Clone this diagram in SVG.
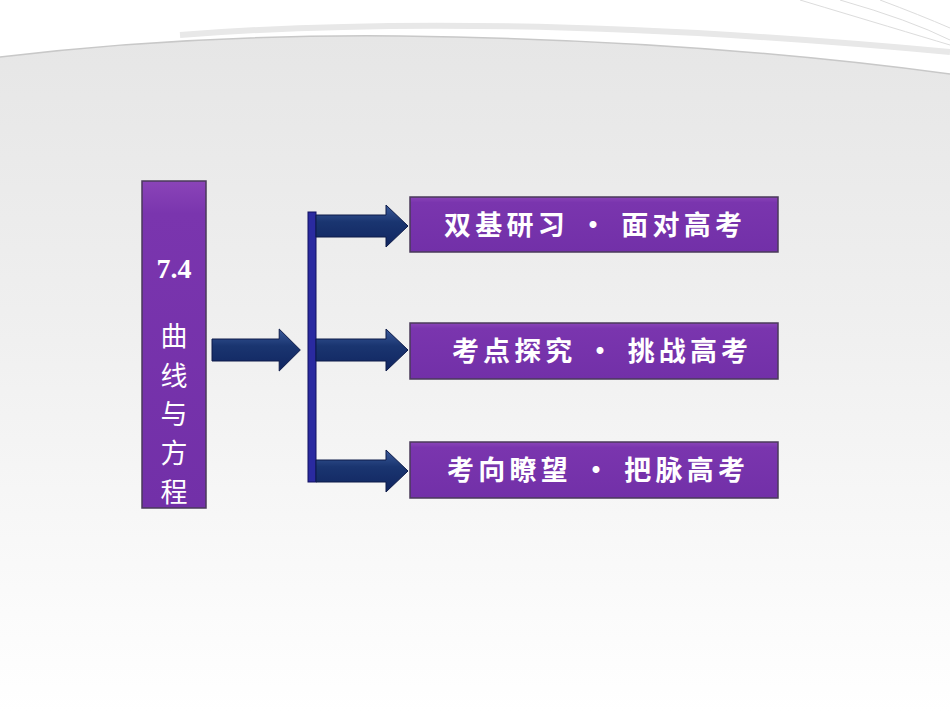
<svg xmlns="http://www.w3.org/2000/svg" width="950" height="713" viewBox="0 0 950 713">
<defs>
<linearGradient id="bg" x1="0" y1="0" x2="0" y2="1">
<stop offset="0" stop-color="#e6e6e6"/><stop offset="0.45" stop-color="#f0f0f0"/><stop offset="1" stop-color="#ffffff"/>
</linearGradient>
<linearGradient id="arr" x1="0" y1="0" x2="0" y2="1">
<stop offset="0" stop-color="#3a5a9a"/><stop offset="0.4" stop-color="#1a3570"/><stop offset="1" stop-color="#102560"/>
</linearGradient>
<linearGradient id="pur" x1="0" y1="0" x2="0" y2="1">
<stop offset="0" stop-color="#8a44b8"/><stop offset="0.1" stop-color="#7a35ae"/><stop offset="1" stop-color="#7230a8"/>
</linearGradient>
<path id="ar" d="M0,-11 H70 V-21 L92,0 L70,21 V11 H0 Z"/>
<style>
.box{fill:url(#pur);stroke:#4a3a5a;stroke-width:1.5}
.t{font-family:"Noto Sans CJK SC","Liberation Sans",sans-serif;font-weight:bold;font-size:27px;fill:#fff}
.v{font-family:"Noto Sans CJK SC",serif;font-size:27px;fill:#fff;text-anchor:middle}
.a{fill:url(#arr);stroke:#0c1a48;stroke-width:1}
</style>
</defs>
<rect width="950" height="713" fill="#fff"/>
<path d="M0,57 Q190,34 400,36 Q700,40 950,74 V713 H0 Z" fill="url(#bg)"/>
<path d="M0,57 Q190,34 400,36 Q700,40 950,74" fill="none" stroke="#c8c8c8" stroke-width="1.5"/>
<path d="M180,35 Q500,10 950,52" fill="none" stroke="#e8e8e8" stroke-width="6"/>
<path d="M800,0 Q900,30 950,45 M840,0 Q910,20 950,40 M880,0 Q920,15 950,28" fill="none" stroke="#dcdcdc" stroke-width="1"/>
<g id="main"><rect class="box" x="142" y="181" width="64" height="327"/>
<text x="174" y="278" class="v" style="font-family:'Liberation Serif',serif;font-weight:bold;font-size:28px">7.4</text>
<text x="174" y="346" class="v">曲</text><text x="174" y="386" class="v">线</text><text x="174" y="424" class="v">与</text><text x="174" y="463" class="v">方</text><text x="174" y="502" class="v">程</text></g>
<g id="connectors">
<use href="#ar" class="a" transform="translate(212,350) scale(0.96,1)"/>
<rect x="308" y="212" width="8" height="270" fill="#2a2aa0" stroke="#101060"/>
<use href="#ar" class="a" transform="translate(316,226)"/>
<use href="#ar" class="a" transform="translate(316,350)"/>
<use href="#ar" class="a" transform="translate(316,471)"/>
</g>
<g id="b1"><rect class="box" x="410" y="197" width="368" height="55"/><text class="t" x="444" y="235" textLength="298" lengthAdjust="spacing">双基研习 · 面对高考</text></g>
<g id="b2"><rect class="box" x="410" y="323" width="368" height="56"/><text class="t" x="452" y="361" textLength="296" lengthAdjust="spacing">考点探究 · 挑战高考</text></g>
<g id="b3"><rect class="box" x="410" y="442" width="368" height="56"/><text class="t" x="447" y="480" textLength="298" lengthAdjust="spacing">考向瞭望 · 把脉高考</text></g>
</svg>
